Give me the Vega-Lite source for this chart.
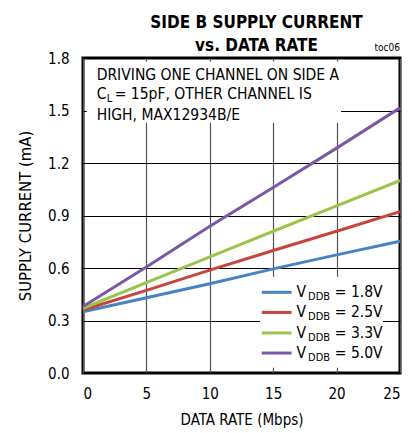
{
  "$schema": "https://vega.github.io/schema/vega-lite/v6.json",
  "width": 317,
  "height": 315,
  "autosize": {"type": "none"},
  "padding": {"left": 83, "top": 58, "right": 15, "bottom": 60},
  "config": {
    "font": "DejaVu Sans Condensed, Liberation Sans, sans-serif",
    "view": {"stroke": "black", "strokeWidth": 3},
    "axis": {
      "labelFont": "DejaVu Sans Condensed, Liberation Sans, sans-serif",
      "titleFont": "DejaVu Sans Condensed, Liberation Sans, sans-serif",
      "labelFontSize": 15,
      "titleFontSize": 15,
      "titleFontWeight": "normal",
      "labelColor": "black",
      "titleColor": "black",
      "domain": false,
      "ticks": false,
      "grid": true,
      "gridColor": "#444",
      "gridWidth": 1.2,
      "gridOpacity": 1
    }
  },
  "title": {
    "text": ["SIDE B SUPPLY CURRENT", "vs. DATA RATE"],
    "font": "DejaVu Sans Condensed, Liberation Sans, sans-serif",
    "fontSize": 17,
    "fontWeight": "bold",
    "color": "black",
    "anchor": "middle",
    "dx": 15,
    "dy": 20,
    "offset": 8,
    "lineHeight": 23
  },
  "datasets": {
    "lines": [
      {"series": "1.8V", "rate": 0, "current": 0.35},
      {"series": "1.8V", "rate": 5, "current": 0.43},
      {"series": "1.8V", "rate": 10, "current": 0.51},
      {"series": "1.8V", "rate": 15, "current": 0.595},
      {"series": "1.8V", "rate": 20, "current": 0.675},
      {"series": "1.8V", "rate": 25, "current": 0.753},
      {"series": "2.5V", "rate": 0, "current": 0.36},
      {"series": "2.5V", "rate": 5, "current": 0.472},
      {"series": "2.5V", "rate": 10, "current": 0.588},
      {"series": "2.5V", "rate": 15, "current": 0.7},
      {"series": "2.5V", "rate": 20, "current": 0.81},
      {"series": "2.5V", "rate": 25, "current": 0.922},
      {"series": "3.3V", "rate": 0, "current": 0.37},
      {"series": "3.3V", "rate": 5, "current": 0.516},
      {"series": "3.3V", "rate": 10, "current": 0.663},
      {"series": "3.3V", "rate": 15, "current": 0.81},
      {"series": "3.3V", "rate": 20, "current": 0.955},
      {"series": "3.3V", "rate": 25, "current": 1.1},
      {"series": "5.0V", "rate": 0, "current": 0.38},
      {"series": "5.0V", "rate": 5, "current": 0.606},
      {"series": "5.0V", "rate": 10, "current": 0.838},
      {"series": "5.0V", "rate": 15, "current": 1.06},
      {"series": "5.0V", "rate": 20, "current": 1.285},
      {"series": "5.0V", "rate": 25, "current": 1.515}
    ],
    "boxes": [
      {"x1": 0.3, "x2": 20.35, "y1": 1.43, "y2": 1.78},
      {"x1": 13.96, "x2": 23.66, "y1": 0.03, "y2": 0.55}
    ],
    "keys": [
      {"series": "1.8V", "x1": 14.1, "x2": 16.45, "y": 0.461},
      {"series": "2.5V", "x1": 14.1, "x2": 16.45, "y": 0.346},
      {"series": "3.3V", "x1": 14.1, "x2": 16.45, "y": 0.229},
      {"series": "5.0V", "x1": 14.1, "x2": 16.45, "y": 0.114}
    ],
    "texts": [
      {"x": 1.08, "y": 1.705, "t": "DRIVING ONE CHANNEL ON SIDE A", "part": "main"},
      {"x": 1.08, "y": 1.594, "t": "C", "part": "main"},
      {"x": 1.88, "y": 1.594, "t": "L", "part": "sub"},
      {"x": 2.5, "y": 1.594, "t": "= 15pF, OTHER CHANNEL IS", "part": "main"},
      {"x": 1.08, "y": 1.476, "t": "HIGH, MAX12934B/E", "part": "main"},
      {"x": 16.83, "y": 0.461, "t": "V", "part": "main"},
      {"x": 17.75, "y": 0.461, "t": "DDB", "part": "sub"},
      {"x": 19.86, "y": 0.461, "t": "= 1.8V", "part": "main"},
      {"x": 16.83, "y": 0.346, "t": "V", "part": "main"},
      {"x": 17.75, "y": 0.346, "t": "DDB", "part": "sub"},
      {"x": 19.86, "y": 0.346, "t": "= 2.5V", "part": "main"},
      {"x": 16.83, "y": 0.229, "t": "V", "part": "main"},
      {"x": 17.75, "y": 0.229, "t": "DDB", "part": "sub"},
      {"x": 19.86, "y": 0.229, "t": "= 3.3V", "part": "main"},
      {"x": 16.83, "y": 0.114, "t": "V", "part": "main"},
      {"x": 17.75, "y": 0.114, "t": "DDB", "part": "sub"},
      {"x": 19.86, "y": 0.114, "t": "= 5.0V", "part": "main"},
      {"x": 25, "y": 1.8, "t": "toc06", "part": "small"}
    ]
  },
  "layer": [
    {
      "data": {"name": "boxes"},
      "mark": {"type": "rect", "fill": "white", "stroke": null},
      "encoding": {
        "x": {"field": "x1", "type": "quantitative", "scale": {"domain": [0, 25], "nice": false},
              "axis": {"values": [0, 5, 10, 15, 20, 25], "title": "DATA RATE (Mbps)", "labelPadding": 13, "titlePadding": 11, "gridColor": "#555"}},
        "x2": {"field": "x2"},
        "y": {"field": "y1", "type": "quantitative", "scale": {"domain": [0, 1.8], "nice": false},
              "axis": {"values": [0, 0.3, 0.6, 0.9, 1.2, 1.5, 1.8], "format": ".1f", "title": "SUPPLY CURRENT (mA)", "titleFontSize": 16.5, "labelPadding": 14, "titlePadding": 14, "gridColor": "black"}},
        "y2": {"field": "y2"}
      }
    },
    {
      "data": {"name": "lines"},
      "mark": {"type": "line", "strokeWidth": 3},
      "encoding": {
        "x": {"field": "rate", "type": "quantitative"},
        "y": {"field": "current", "type": "quantitative"},
        "color": {"field": "series", "type": "nominal",
                  "scale": {"domain": ["1.8V", "2.5V", "3.3V", "5.0V"], "range": ["#4682c6", "#c9443f", "#9bc54a", "#7b58a6"]},
                  "legend": null}
      }
    },
    {
      "data": {"name": "keys"},
      "mark": {"type": "rule", "strokeWidth": 3},
      "encoding": {
        "x": {"field": "x1", "type": "quantitative"},
        "x2": {"field": "x2"},
        "y": {"field": "y", "type": "quantitative"},
        "color": {"field": "series", "type": "nominal", "legend": null}
      }
    },
    {
      "data": {"name": "texts"},
      "transform": [{"filter": "datum.part === 'main'"}],
      "mark": {"type": "text", "align": "left", "baseline": "middle", "fontSize": 15.5, "color": "black"},
      "encoding": {
        "x": {"field": "x", "type": "quantitative"},
        "y": {"field": "y", "type": "quantitative"},
        "text": {"field": "t"}
      }
    },
    {
      "data": {"name": "texts"},
      "transform": [{"filter": "datum.part === 'sub'"}],
      "mark": {"type": "text", "align": "left", "baseline": "middle", "fontSize": 11, "dy": 5, "color": "black"},
      "encoding": {
        "x": {"field": "x", "type": "quantitative"},
        "y": {"field": "y", "type": "quantitative"},
        "text": {"field": "t"}
      }
    },
    {
      "data": {"name": "texts"},
      "transform": [{"filter": "datum.part === 'small'"}],
      "mark": {"type": "text", "align": "right", "baseline": "bottom", "fontSize": 10, "dy": -5, "color": "black"},
      "encoding": {
        "x": {"field": "x", "type": "quantitative"},
        "y": {"field": "y", "type": "quantitative"},
        "text": {"field": "t"}
      }
    }
  ]
}
